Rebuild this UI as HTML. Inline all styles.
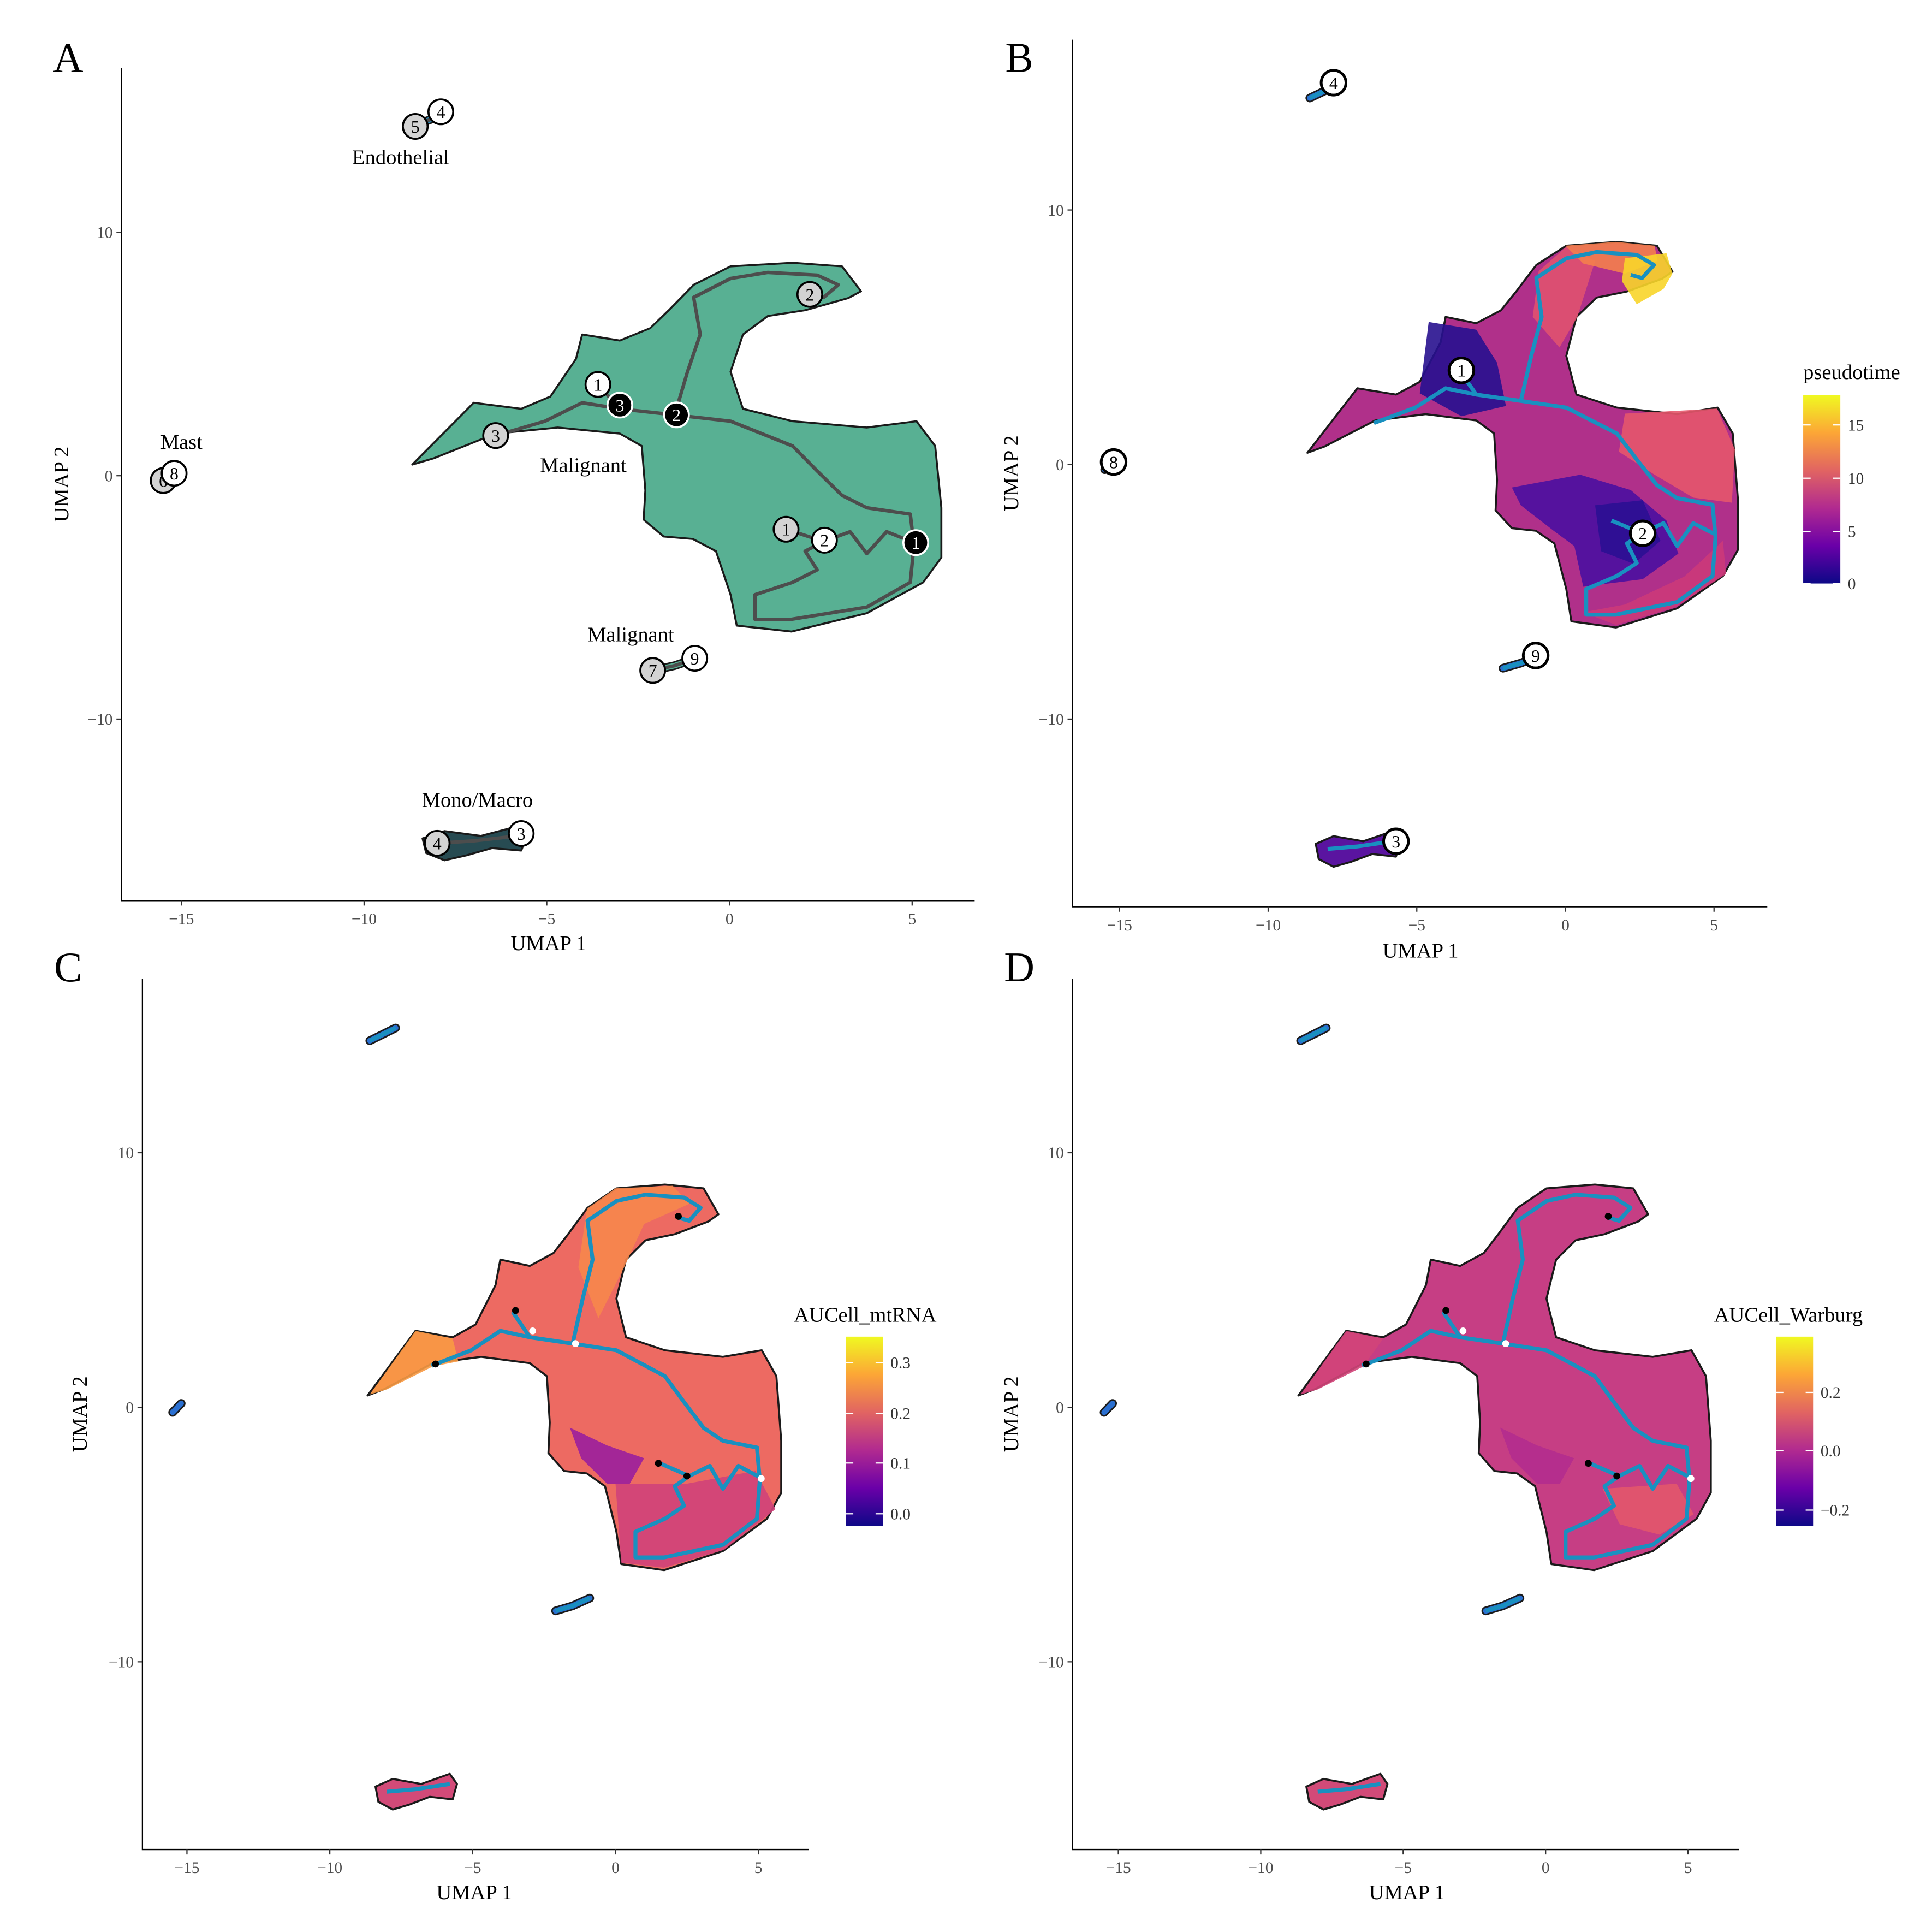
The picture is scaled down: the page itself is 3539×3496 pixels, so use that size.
<!DOCTYPE html>
<html><head><meta charset="utf-8"><style>
html,body{margin:0;padding:0;background:#fff}
svg{display:block}
text{font-family:"Liberation Serif",serif}
</style></head><body>
<svg id="fig" width="3539" height="3496" viewBox="0 0 1560 1541" xmlns="http://www.w3.org/2000/svg"></svg>
<script>
// ---- data (UMAP coordinates) ----
const xTicks = [-15, -10, -5, 0, 5];
const yTicks = [10, 0, -10];
const mainBlob = [[-8.68,0.46],[-7.0,3.0],[-5.7,2.75],[-4.9,3.25],[-4.2,4.8],[-4.03,5.8],[-3.0,5.55],[-2.17,6.06],[-1.66,6.8],[-0.98,7.84],[0.03,8.6],[1.73,8.75],[3.08,8.6],[3.6,7.58],[3.25,7.3],[2.07,6.8],[1.05,6.56],[0.37,5.8],[0.03,4.27],[0.37,2.75],[1.73,2.24],[3.76,1.98],[5.12,2.24],[5.63,1.22],[5.8,-1.32],[5.8,-3.36],[5.3,-4.38],[3.76,-5.65],[1.7,-6.4],[0.2,-6.16],[0.03,-4.89],[-0.37,-3.1],[-1.0,-2.6],[-1.8,-2.5],[-2.35,-1.8],[-2.3,-0.6],[-2.4,1.22],[-3.0,1.73],[-4.7,1.98],[-6.4,1.73],[-8.1,0.71]];
const monoBlob = [[-8.4,-14.9],[-7.8,-14.6],[-6.8,-14.8],[-5.8,-14.4],[-5.55,-14.8],[-5.7,-15.4],[-6.5,-15.3],[-7.2,-15.6],[-7.8,-15.8],[-8.3,-15.5]];
const endoLine = [[-8.6,14.4],[-7.7,14.9]];
const mastLine = [[-15.5,-0.2],[-15.2,0.15]];
const malig2Line = [[-2.1,-8.0],[-1.5,-7.8],[-0.9,-7.5]];
const monoLine = [[-8.0,-15.1],[-7.0,-15.0],[-5.8,-14.8]];
const trajMain = [[-6.44,1.63],[-5.05,2.24],[-4.03,3.0],[-3.0,2.75],[-1.5,2.5],[0.03,2.24],[1.73,1.22],[2.4,0.2],[3.08,-0.81],[3.76,-1.32],[4.95,-1.58],[5.05,-2.85],[4.95,-4.38],[3.76,-5.4],[1.7,-5.9],[0.7,-5.9],[0.7,-4.89],[1.73,-4.38],[2.4,-3.87],[2.07,-3.1],[2.58,-2.7],[1.55,-2.2]];
const trajUp = [[-1.5,2.5],[-1.15,4.27],[-0.8,5.8],[-0.98,7.33],[0.03,8.1],[1.05,8.35],[2.4,8.24],[2.98,7.84],[2.58,7.33],[2.2,7.45]];
const trajN1 = [[-3.6,3.75],[-3.0,2.75]];
const trajR = [[2.58,-2.7],[3.3,-2.3],[3.76,-3.2],[4.3,-2.3],[5.05,-2.75]];
const nodesA = [["1","g",1.55,-2.2],["2","w",2.6,-2.65],["1","b",5.1,-2.75],["1","w",-3.6,3.75],["3","b",-3.0,2.9],["2","b",-1.45,2.5],["3","g",-6.4,1.65],["2","g",2.2,7.45],["5","g",-8.6,14.35],["4","w",-7.9,14.95],["6","g",-15.5,-0.2],["8","w",-15.2,0.1],["7","g",-2.1,-8.0],["9","w",-0.95,-7.5],["4","g",-8.0,-15.1],["3","w",-5.7,-14.7]];
const nodesB = [["1",-3.5,3.7],["2",2.6,-2.7],["4",-7.8,15.0],["8",-15.2,0.1],["9",-1.0,-7.5],["3",-5.7,-14.8]];
const dotsCD = [["b",-3.5,3.8],["w",-2.9,3.0],["w",-1.4,2.5],["b",-6.3,1.7],["b",1.5,-2.2],["b",2.5,-2.7],["w",5.1,-2.8],["b",2.2,7.5]];
const bRegions = [
 ["#28118f",[[-4.6,5.6],[-3.0,5.3],[-2.3,4.0],[-2.0,2.3],[-3.5,1.9],[-4.9,2.8]]],
 ["#4b0fa0",[[-1.8,-0.9],[0.5,-0.4],[2.2,-1.0],[3.4,-2.2],[3.8,-3.5],[2.6,-4.5],[0.6,-4.8],[0.3,-3.2],[-0.4,-2.6],[-1.5,-1.6]]],
 ["#2b0f92",[[1.0,-1.6],[2.6,-1.4],[3.2,-3.0],[2.3,-3.9],[1.2,-3.4]]],
 ["#e5566b",[[2.0,2.0],[5.1,2.2],[5.7,0.6],[5.6,-1.5],[4.3,-1.3],[3.0,-0.4],[1.8,0.5]]],
 ["#e0526f",[[-0.9,7.6],[0.03,8.55],[1.0,8.0],[0.4,5.8],[-0.2,4.6],[-1.1,5.8]]],
 ["#f47f4c",[[0.0,8.6],[1.7,8.75],[3.0,8.6],[3.1,8.0],[2.0,7.5],[0.6,7.9]]],
 ["#f8d52a",[[2.0,8.1],[3.4,8.3],[3.6,7.5],[3.3,6.9],[2.4,6.3],[1.9,7.2]]],
 ["#cc3a79",[[4.0,-4.4],[5.3,-3.0],[5.4,-4.3],[3.7,-5.6],[1.7,-6.3],[0.6,-5.8],[2.0,-5.5]]]];
const cRegions = [
 ["#f89a44",[[-8.6,0.5],[-7.0,3.0],[-5.7,2.7],[-5.5,1.8],[-6.4,1.6],[-8.0,0.7]]],
 ["#f6874c",[[-1.0,7.8],[0.0,8.6],[2.0,8.7],[2.6,8.0],[1.0,7.2],[0.3,5.5],[-0.6,3.5],[-1.3,5.5]]],
 ["#9a1f9d",[[-1.6,-0.8],[-0.3,-1.5],[1.0,-2.0],[0.5,-3.0],[-0.3,-3.0],[-1.2,-2.0]]],
 ["#cf427a",[[0.0,-3.0],[2.5,-3.0],[4.9,-2.5],[5.6,-4.0],[3.8,-5.6],[1.7,-6.3],[0.2,-6.1]]]];
const dRegions = [
 ["#b32c8e",[[-1.6,-0.8],[-0.3,-1.5],[1.0,-2.0],[0.5,-3.0],[-0.3,-3.0],[-1.2,-2.0]]],
 ["#e2566c",[[2.0,-3.2],[4.6,-3.0],[5.2,-4.2],[4.0,-5.0],[2.6,-4.6]]],
 ["#d24479",[[-8.6,0.5],[-7.0,3.0],[-5.7,2.7],[-6.4,1.6],[-8.0,0.7]]]];

const panels = [
 {id:"a",letter:"A",lx:55,ly:58,L:98,R:787,T:55,B:727,x0:589,ux:29.5,y0:384,uy:19.65,fill:"#58b093",t1x:443,t1y:767,t2x:55},
 {id:"b",letter:"B",lx:823,ly:58,L:866,R:1427,T:32,B:732,x0:1264,ux:24,y0:375,uy:20.55,fill:"#b0308a",t1x:1147,t1y:773,t2x:822,
  legend:{title:"pseudotime",tx:1456,ty:306,bx:1456,by:319,bh:152,ticks:[["15",343],["10",386],["5",429],["0",471]]},regions:bRegions},
 {id:"c",letter:"C",lx:55,ly:792,L:115,R:653,T:790,B:1493,x0:497,ux:23.07,y0:1136,uy:20.55,fill:"#ed6a62",t1x:383,t1y:1533,t2x:70,
  legend:{title:"AUCell_mtRNA",tx:641,ty:1067,bx:683,by:1079,bh:153,ticks:[["0.3",1100],["0.2",1141],["0.1",1181],["0.0",1222]]},regions:cRegions},
 {id:"d",letter:"D",lx:823,ly:792,L:866,R:1404,T:790,B:1493,x0:1248,ux:23.0,y0:1136,uy:20.55,fill:"#c63e84",t1x:1136,t1y:1533,t2x:822,
  legend:{title:"AUCell_Warburg",tx:1384,ty:1067,bx:1434,by:1079,bh:153,ticks:[["0.2",1124],["0.0",1171],["\u22120.2",1219]]},regions:dRegions}
];

const svg = document.getElementById('fig');
const NS = "http://www.w3.org/2000/svg";
function mk(tag, attrs, parent){const e=document.createElementNS(NS,tag);for(const k in attrs)e.setAttribute(k,attrs[k]);(parent||svg).appendChild(e);return e;}
function txt(s, attrs, parent){const e=mk('text',attrs,parent);e.textContent=s;return e;}

const defs = mk('defs',{});
const grad = mk('linearGradient',{id:'plasma',x1:0,y1:1,x2:0,y2:0},defs);
[["0","#0d0887"],["0.2","#6a00a8"],["0.4","#b12a90"],["0.6","#e16462"],["0.8","#fca636"],["1","#f0f921"]].forEach(s=>mk('stop',{offset:s[0],'stop-color':s[1]},grad));

panels.forEach(p=>{
  const g = mk('g',{});
  
  
  const sx = v=>p.x0+v*p.ux, sy = v=>p.y0-v*p.uy;
  const pts = arr=>arr.map(q=>sx(q[0]).toFixed(1)+","+sy(q[1]).toFixed(1)).join(" ");

  const lt = txt(p.letter,{x:p.lx,y:p.ly,'font-size':34,'text-anchor':'middle'},g);
  
  

  const ax = mk('path',{d:`M${p.L},${p.T}V${p.B}H${p.R}`,fill:'none',stroke:'#000','stroke-width':1},g);
  
  
  xTicks.forEach(t=>{
    const x=sx(t);
    mk('line',{x1:x,x2:x,y1:p.B,y2:p.B+4,stroke:'#333'},g);
    const tl=txt(t<0?"\u2212"+(-t):String(t),{x:x,y:p.B+19,'font-size':13,'text-anchor':'middle',fill:'#4d4d4d'},g);
    
    
  });
  yTicks.forEach(t=>{
    const y=sy(t);
    mk('line',{x1:p.L-4,x2:p.L,y1:y,y2:y,stroke:'#333'},g);
    const tl=txt(t<0?"\u2212"+(-t):String(t),{x:p.L-7,y:y+4.5,'font-size':13,'text-anchor':'end',fill:'#4d4d4d'},g);
    
    
  });
  const xt=txt("UMAP 1",{x:p.t1x,y:p.t1y,'font-size':17,'text-anchor':'middle'},g);
  
  
  const yc=(p.T+p.B)/2;
  const yt=txt("UMAP 2",{x:p.t2x,y:yc,'font-size':17,'text-anchor':'middle',transform:`rotate(-90 ${p.t2x} ${yc})`},g);
  
  

  const blob = mk('polygon',{points:pts(mainBlob),fill:p.fill,stroke:'#1a1a1a','stroke-width':1.6,'stroke-linejoin':'round'},g);
  
  
  (p.regions||[]).forEach(r=>{
    const rg=mk('polygon',{points:pts(r[1]),fill:r[0],stroke:'none',opacity:0.9},g);
    
    
  });
  const mono = mk('polygon',{points:pts(monoBlob),fill:p.id==='a'?'#274b52':(p.id==='b'?'#5a14a0':'#d24a78'),stroke:'#1a1a1a','stroke-width':1.6,'stroke-linejoin':'round'},g);
  
  
  [endoLine,mastLine,malig2Line].forEach((l,i)=>{
    const c=mk('polyline',{points:pts(l),fill:'none',stroke:'#1a1a1a','stroke-width':7,'stroke-linecap':'round'},g);
    mk('polyline',{points:pts(l),fill:'none',stroke:p.id==='a'?(i===0?'#2a8fc0':'#58b093'):'#2a6fd0','stroke-width':4.5,'stroke-linecap':'round'},g);
    
    
  });

  const tc = p.id==='a'?'#4d4d4d':'#1990c0';
  const tw = p.id==='a'?2.8:3.2;
  [trajMain,trajUp,trajN1,trajR,monoLine,malig2Line,endoLine].forEach(l=>{
    const tl=mk('polyline',{points:pts(l),fill:'none',stroke:tc,'stroke-width':tw,'stroke-linejoin':'round'},g);
    
    
  });

  if(p.id==='a'){
    nodesA.forEach(n=>{
      const cx=sx(n[2]),cy=sy(n[3]);
      const f=n[1]==='g'?'#d3d3d3':(n[1]==='w'?'#fff':'#000');
      const c=mk('circle',{cx:cx,cy:cy,r:10,fill:f,stroke:n[1]==='b'?'#fff':'#000','stroke-width':1.6},g);
      
      
      txt(n[0],{x:cx,y:cy+5,'font-size':14,'text-anchor':'middle',fill:n[1]==='b'?'#fff':'#000'},g);
    });
    [["Endothelial",-9.0,12.8],["Mast",-15.0,1.1],["Malignant",-4.0,0.15],["Malignant",-2.7,-6.8],["Mono/Macro",-6.9,-13.6]].forEach(l=>{
      const t=txt(l[0],{x:sx(l[1]),y:sy(l[2]),'font-size':17,'text-anchor':'middle'},g);
      
      
    });
  } else if(p.id==='b'){
    nodesB.forEach(n=>{
      const cx=sx(n[1]),cy=sy(n[2]);
      const c=mk('circle',{cx:cx,cy:cy,r:10,fill:'#fff',stroke:'#000','stroke-width':2.2},g);
      
      
      txt(n[0],{x:cx,y:cy+5,'font-size':14,'text-anchor':'middle'},g);
    });
  } else {
    dotsCD.forEach(n=>{
      const c=mk('circle',{cx:sx(n[1]),cy:sy(n[2]),r:2.8,fill:n[0]==='b'?'#000':'#fff'},g);
      
      
    });
  }

  if(p.legend){
    const L=p.legend;
    const lg=mk('g',{},g);
    
    
    txt(L.title,{x:L.tx,y:L.ty,'font-size':17},lg);
    mk('rect',{x:L.bx,y:L.by,width:30,height:L.bh,fill:'url(#plasma)'},lg);
    L.ticks.forEach(t=>{
      mk('line',{x1:L.bx,x2:L.bx+6,y1:t[1],y2:t[1],stroke:'#fff'},lg);
      mk('line',{x1:L.bx+24,x2:L.bx+30,y1:t[1],y2:t[1],stroke:'#fff'},lg);
      txt(t[0],{x:L.bx+36,y:t[1]+4.5,'font-size':13,fill:'#333'},lg);
    });
  }
});
</script>
</body></html>
